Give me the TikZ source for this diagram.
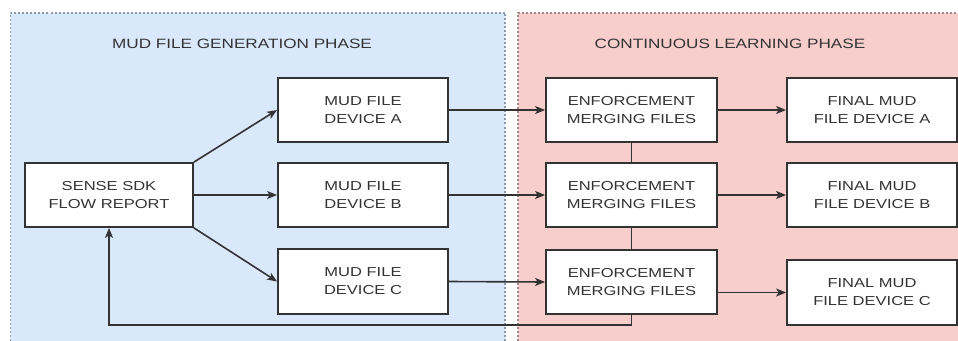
\documentclass[tikz,border=0pt]{standalone}
\usepackage{fontspec}
\setmainfont{Liberation Sans}[FakeStretch=1.27]
\usetikzlibrary{arrows.meta}
\definecolor{bluefill}{HTML}{DAE8FC}
\definecolor{redfill}{HTML}{F8CECC}
\definecolor{blueline}{HTML}{8C9AAE}
\definecolor{redline}{HTML}{A08888}
\definecolor{ink}{HTML}{333333}
\tikzset{
  box/.style={draw=ink, line width=1.8pt, fill=white, minimum width=170pt, minimum height=64pt,
    align=center, font=\fontsize{13}{18}\selectfont, text=ink, inner sep=0pt},
  phase/.style={font=\fontsize{13.5}{16}\selectfont, text=ink},
  conn/.style={draw=ink, line width=1.6pt},
  arr/.style={conn, -{Stealth[length=10pt,width=8pt,inset=2.5pt]}}
}
\begin{document}
\begin{tikzpicture}[x=1pt,y=-1pt]
\useasboundingbox (0,0) rectangle (958,340);
% phases
\fill[bluefill] (10.5,13) rectangle (505,341);
\draw[blueline, line width=1.2pt, dash pattern=on 2pt off 2pt] (10.5,341) -- (10.5,13) -- (505,13) -- (505,341);
\fill[redfill] (518,13) rectangle (960,341);
\draw[redline, line width=1.2pt, dash pattern=on 2pt off 2pt] (518,341) -- (518,13) -- (960,13);
\node[phase] (t1) at (242,44) {MUD FILE GENERATION PHASE};
\node[phase] (t2) at (730,44) {CONTINUOUS LEARNING PHASE};
% nodes
\node[box, minimum width=168pt] (sense) at (109,195) {SENSE SDK\\FLOW REPORT};
\node[box] (ma) at (363,110) {MUD FILE\\DEVICE A};
\node[box] (mb) at (363,195) {MUD FILE\\DEVICE B};
\node[box, minimum height=65pt] (mc) at (363,281.5) {MUD FILE\\DEVICE C};
\node[box, minimum width=171pt] (ea) at (631.5,110) {ENFORCEMENT\\MERGING FILES};
\node[box, minimum width=171pt] (eb) at (631.5,195) {ENFORCEMENT\\MERGING FILES};
\node[box, minimum width=171pt] (ec) at (631.5,282) {ENFORCEMENT\\MERGING FILES};
\node[box] (fa) at (872,110) {FINAL MUD\\FILE DEVICE A};
\node[box] (fb) at (872,195) {FINAL MUD\\FILE DEVICE B};
\node[box, minimum height=65pt] (fc) at (872,292.5) {FINAL MUD\\FILE DEVICE C};
% connectors
\draw[arr] (sense.north east) -- (ma.west);
\draw[arr] (sense.east) -- (mb.west);
\draw[arr] (sense.south east) -- (mc.west);
\draw[arr] (ma.east) -- (ea.west);
\draw[arr] (mb.east) -- (eb.west);
\draw[arr] (mc.east) -- (ec.west);
\draw[arr] (ea.east) -- (fa.west);
\draw[arr] (eb.east) -- (fb.west);
\draw[arr] (fc.west -| ec.east) -- (fc.west);
\draw[conn] (ea.south) -- (eb.north);
\draw[conn] (eb.south) -- (ec.north);
\draw[arr] (ec.south) -- ++(0,10) -| (sense.south);
\end{tikzpicture}
\end{document}
